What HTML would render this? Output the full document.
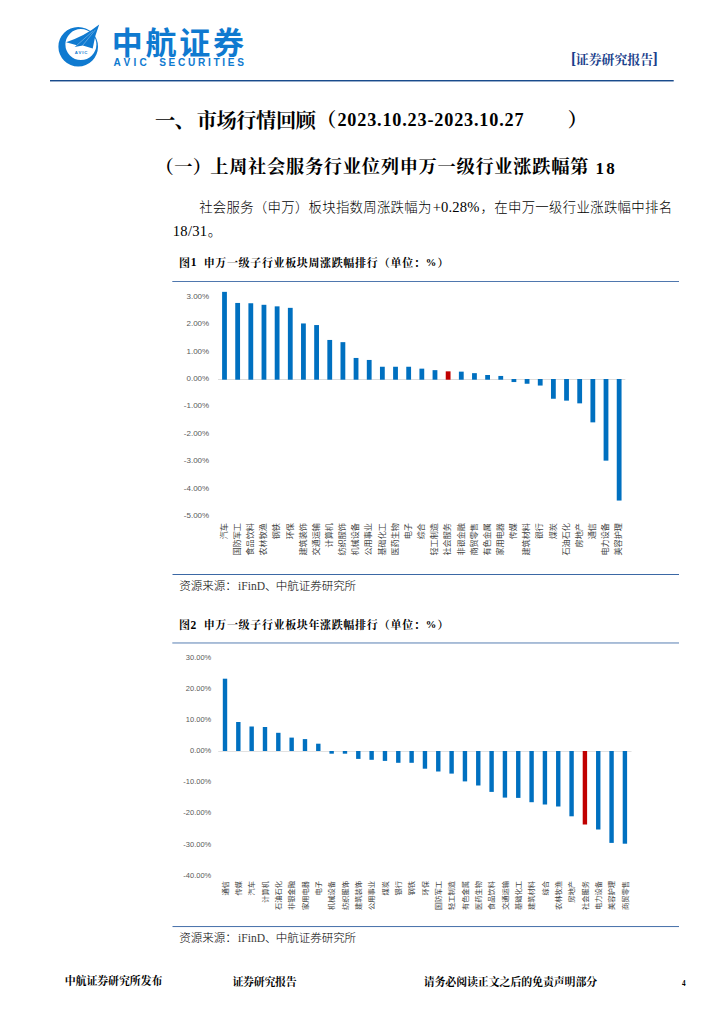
<!DOCTYPE html>
<html lang="zh-CN"><head><meta charset="utf-8"><title>证券研究报告</title>
<style>
html,body{margin:0;padding:0;background:#fff}
#page{position:relative;width:724px;height:1024px;overflow:hidden;background:#fff;font-family:"Liberation Serif","Noto Serif CJK SC",serif}
#art{position:absolute;left:0;top:0;width:724px;height:1024px}
header,footer,h1,h2,p,figure,figcaption,ul,li{margin:0;padding:0;font:inherit;list-style:none}
/* real text layer */
.g{position:absolute;white-space:pre;line-height:1.095;color:#000;font-family:"Liberation Serif","Noto Serif CJK SC",serif;transform-origin:0 0}
.s{font-family:"Liberation Sans","Noto Sans CJK SC",sans-serif;line-height:1.077}
.v90{font-family:"Liberation Sans","Noto Sans CJK SC",sans-serif;line-height:1.077;transform:rotate(-90deg) translateX(-100%);color:#444444}
header .g{color:#1b3f8c;font-weight:bold}
header .s{color:#0f7ad0;font-weight:bold}
h1 .g,h2 .g,figcaption .g,footer .g{font-weight:bold}
p .g{font-family:"Liberation Serif","Noto Sans CJK SC",sans-serif;font-weight:300}
figure>.s{color:#595959}
</style></head><body>
<div id="page">
<svg id="art" width="724" height="1024" viewBox="0 0 724 1024" aria-hidden="true">
<g fill="#0f7ad0">
<path fill-rule="evenodd" d="M78.2 26.9a19.8 19.8 0 1 0 0 39.6a19.8 19.8 0 1 0 0-39.6ZM80.9 29.1a15.5 15.5 0 1 1 0 31a15.5 15.5 0 1 1 0-31Z"/>
<path d="M66.1 42.2Q84.5 36.4 99.2 24.6Q94.4 36.5 92.7 48.4L82.8 45.6L74.6 47.1L76.8 45.2Z"/>
</g>
<path d="M76.9 45.2L92.8 31.2M82.5 45.6L95.4 29.8" stroke="#fff" stroke-width=".32" fill="none"/>
<rect x="50" y="80" width="623.7" height="1.45" fill="#194b8c"/>
<rect x="172.3" y="281.05" width="506.7" height="0.9" fill="#3b68a5"/>
<rect x="172.5" y="574" width="506.5" height="1" fill="#3b68a5"/>
<rect x="218" y="379" width="407.3" height="0.9" fill="#d9d9d9"/>
<rect x="222.1" y="291.85" width="4.8" height="87.85" fill="#0070c0"/>
<rect x="235.25" y="302.95" width="4.8" height="76.75" fill="#0070c0"/>
<rect x="248.41" y="303.25" width="4.8" height="76.45" fill="#0070c0"/>
<rect x="261.56" y="304.8" width="4.8" height="74.9" fill="#0070c0"/>
<rect x="274.72" y="306.35" width="4.8" height="73.35" fill="#0070c0"/>
<rect x="287.88" y="307.85" width="4.8" height="71.85" fill="#0070c0"/>
<rect x="301.03" y="323.45" width="4.8" height="56.25" fill="#0070c0"/>
<rect x="314.19" y="325.05" width="4.8" height="54.65" fill="#0070c0"/>
<rect x="327.34" y="339.95" width="4.8" height="39.75" fill="#0070c0"/>
<rect x="340.5" y="342.15" width="4.8" height="37.55" fill="#0070c0"/>
<rect x="353.65" y="357.95" width="4.8" height="21.75" fill="#0070c0"/>
<rect x="366.81" y="359.95" width="4.8" height="19.75" fill="#0070c0"/>
<rect x="379.96" y="366.75" width="4.8" height="12.95" fill="#0070c0"/>
<rect x="393.12" y="366.75" width="4.8" height="12.95" fill="#0070c0"/>
<rect x="406.27" y="366.75" width="4.8" height="12.95" fill="#0070c0"/>
<rect x="419.43" y="368.65" width="4.8" height="11.05" fill="#0070c0"/>
<rect x="432.58" y="370.15" width="4.8" height="9.55" fill="#0070c0"/>
<rect x="445.74" y="371.35" width="4.8" height="8.35" fill="#c00000"/>
<rect x="458.89" y="371.65" width="4.8" height="8.05" fill="#0070c0"/>
<rect x="472.05" y="373.15" width="4.8" height="6.55" fill="#0070c0"/>
<rect x="485.2" y="375" width="4.8" height="4.7" fill="#0070c0"/>
<rect x="498.36" y="375.95" width="4.8" height="3.75" fill="#0070c0"/>
<rect x="511.51" y="379" width="4.8" height="3.05" fill="#0070c0"/>
<rect x="524.67" y="379" width="4.8" height="4.75" fill="#0070c0"/>
<rect x="537.82" y="379" width="4.8" height="6.55" fill="#0070c0"/>
<rect x="550.98" y="379" width="4.8" height="19.75" fill="#0070c0"/>
<rect x="564.13" y="379" width="4.8" height="21.65" fill="#0070c0"/>
<rect x="577.28" y="379" width="4.8" height="24.35" fill="#0070c0"/>
<rect x="590.44" y="379" width="4.8" height="43.35" fill="#0070c0"/>
<rect x="603.6" y="379" width="4.8" height="81.65" fill="#0070c0"/>
<rect x="616.75" y="379" width="4.8" height="121.55" fill="#0070c0"/>
<rect x="172.3" y="642.55" width="506.7" height="0.85" fill="#3b68a5"/>
<rect x="172.5" y="926.1" width="506.5" height="0.95" fill="#3b68a5"/>
<rect x="218.2" y="751" width="413.3" height="0.9" fill="#dedede"/>
<rect x="222.8" y="678.7" width="4.4" height="72.3" fill="#0070c0"/>
<rect x="236.13" y="722" width="4.4" height="29" fill="#0070c0"/>
<rect x="249.46" y="726.5" width="4.4" height="24.5" fill="#0070c0"/>
<rect x="262.79" y="727" width="4.4" height="24" fill="#0070c0"/>
<rect x="276.12" y="732.8" width="4.4" height="18.2" fill="#0070c0"/>
<rect x="289.45" y="737.6" width="4.4" height="13.4" fill="#0070c0"/>
<rect x="302.78" y="739.1" width="4.4" height="11.9" fill="#0070c0"/>
<rect x="316.11" y="743.7" width="4.4" height="7.3" fill="#0070c0"/>
<rect x="329.44" y="751" width="4.4" height="2.7" fill="#0070c0"/>
<rect x="342.77" y="751" width="4.4" height="2.7" fill="#0070c0"/>
<rect x="356.1" y="751" width="4.4" height="7.9" fill="#0070c0"/>
<rect x="369.43" y="751" width="4.4" height="8.8" fill="#0070c0"/>
<rect x="382.76" y="751" width="4.4" height="9.9" fill="#0070c0"/>
<rect x="396.09" y="751" width="4.4" height="11.8" fill="#0070c0"/>
<rect x="409.42" y="751" width="4.4" height="11.8" fill="#0070c0"/>
<rect x="422.75" y="751" width="4.4" height="17.7" fill="#0070c0"/>
<rect x="436.08" y="751" width="4.4" height="20.5" fill="#0070c0"/>
<rect x="449.41" y="751" width="4.4" height="22.6" fill="#0070c0"/>
<rect x="462.74" y="751" width="4.4" height="30.4" fill="#0070c0"/>
<rect x="476.07" y="751" width="4.4" height="34.5" fill="#0070c0"/>
<rect x="489.4" y="751" width="4.4" height="40.9" fill="#0070c0"/>
<rect x="502.73" y="751" width="4.4" height="46.6" fill="#0070c0"/>
<rect x="516.06" y="751" width="4.4" height="46.9" fill="#0070c0"/>
<rect x="529.39" y="751" width="4.4" height="51.2" fill="#0070c0"/>
<rect x="542.72" y="751" width="4.4" height="53.5" fill="#0070c0"/>
<rect x="556.05" y="751" width="4.4" height="55.5" fill="#0070c0"/>
<rect x="569.38" y="751" width="4.4" height="65.3" fill="#0070c0"/>
<rect x="582.71" y="751" width="4.4" height="73.5" fill="#c00000"/>
<rect x="596.04" y="751" width="4.4" height="78.5" fill="#0070c0"/>
<rect x="609.37" y="751" width="4.4" height="91.9" fill="#0070c0"/>
<rect x="622.7" y="751" width="4.4" height="92.7" fill="#0070c0"/>
</svg>
<header>
<span class="g s" style="left:74.8px;top:51.1px;font-size:4.3px;letter-spacing:0.9px">AVIC</span>
<span class="g s" style="left:111.7px;top:26.5px;font-size:31px;letter-spacing:2.78px">中航证券</span>
<span class="g s" style="left:113.6px;top:58.3px;font-size:10.1px;letter-spacing:3.27px">AVIC</span>
<span class="g s" style="left:159.2px;top:58.3px;font-size:10.1px;letter-spacing:2.69px">SECURITIES</span>
<span class="g" style="left:570.9px;top:49.8px;font-size:15.7px">[</span>
<span class="g" style="left:575.8px;top:52.7px;font-size:12.9px">证券研究报告</span>
<span class="g" style="left:652.6px;top:49.8px;font-size:15.7px">]</span>
</header>
<h1>
<span class="g" style="left:155.1px;top:109.9px;font-size:20.2px">一</span>
<span class="g" style="left:174.5px;top:109.4px;font-size:21px">、</span>
<span class="g" style="left:196.7px;top:110px;font-size:20.2px;letter-spacing:-0.39px">市场行情回顾</span>
<span class="g" style="left:316.8px;top:110.3px;font-size:19.46px">（</span>
<span class="g" style="left:337.4px;top:111.3px;font-size:18.2px;letter-spacing:0.82px">2023.10.23-2023.10.27</span>
<span class="g" style="left:567.7px;top:110.3px;font-size:19.46px">）</span>
</h1>
<h2>
<span class="g" style="left:155.5px;top:158px;font-size:18.24px;letter-spacing:0.42px">（一）</span>
<span class="g" style="left:210.2px;top:158px;font-size:18.24px;letter-spacing:0.71px">上周社会服务行业位列申万一级行业涨跌幅第</span>
<span class="g" style="left:595.4px;top:159.8px;font-size:17px;letter-spacing:2.26px">18</span>
</h2>
<p>
<span class="g" style="left:199.2px;top:200.8px;font-size:13.4px;letter-spacing:0.28px">社会服务（申万）板块指数周涨跌幅为</span>
<span class="g" style="left:432.7px;top:199.9px;font-size:14.6px;letter-spacing:0.16px">+0.28%</span>
<span class="g" style="left:480.5px;top:200.8px;font-size:13.4px;letter-spacing:0.32px">，在申万一级行业涨跌幅中排名</span>
<span class="g" style="left:172.8px;top:224.2px;font-size:14.6px;letter-spacing:0.25px">18/31</span>
<span class="g" style="left:207.7px;top:225.1px;font-size:13.4px">。</span>
</p>
<figure>
<figcaption>
<span class="g" style="left:179.1px;top:257.1px;font-size:11px">图</span>
<span class="g" style="left:190.8px;top:256.4px;font-size:11.5px">1</span>
<span class="g" style="left:203.7px;top:257.1px;font-size:11px;letter-spacing:0.64px">申万一级子行业板块周涨跌幅排行</span>
<span class="g" style="left:378.7px;top:257.1px;font-size:11px;letter-spacing:0.78px">（单位：</span>
<span class="g" style="left:425.8px;top:257.1px;font-size:10.5px">%</span>
<span class="g" style="left:437.4px;top:257.1px;font-size:11px">）</span>
</figcaption>
<span class="g v90" style="left:220.7px;top:522.9px;font-size:8.15px">汽车</span>
<span class="g v90" style="left:233.9px;top:522.9px;font-size:8.15px">国防军工</span>
<span class="g v90" style="left:247px;top:522.9px;font-size:8.15px">食品饮料</span>
<span class="g v90" style="left:260.2px;top:522.9px;font-size:8.15px">农林牧渔</span>
<span class="g v90" style="left:273.3px;top:522.9px;font-size:8.15px">钢铁</span>
<span class="g v90" style="left:286.5px;top:522.9px;font-size:8.15px">环保</span>
<span class="g v90" style="left:299.7px;top:522.9px;font-size:8.15px">建筑装饰</span>
<span class="g v90" style="left:312.8px;top:522.9px;font-size:8.15px">交通运输</span>
<span class="g v90" style="left:326px;top:522.9px;font-size:8.15px">计算机</span>
<span class="g v90" style="left:339.1px;top:522.9px;font-size:8.15px">纺织服饰</span>
<span class="g v90" style="left:352.3px;top:522.9px;font-size:8.15px">机械设备</span>
<span class="g v90" style="left:365.4px;top:522.9px;font-size:8.15px">公用事业</span>
<span class="g v90" style="left:378.6px;top:522.9px;font-size:8.15px">基础化工</span>
<span class="g v90" style="left:391.7px;top:522.9px;font-size:8.15px">医药生物</span>
<span class="g v90" style="left:404.9px;top:522.9px;font-size:8.15px">电子</span>
<span class="g v90" style="left:418.1px;top:522.9px;font-size:8.15px">综合</span>
<span class="g v90" style="left:431.2px;top:522.9px;font-size:8.15px">轻工制造</span>
<span class="g v90" style="left:444.4px;top:522.9px;font-size:8.15px">社会服务</span>
<span class="g v90" style="left:457.5px;top:522.9px;font-size:8.15px">非银金融</span>
<span class="g v90" style="left:470.7px;top:522.9px;font-size:8.15px">商贸零售</span>
<span class="g v90" style="left:483.8px;top:522.9px;font-size:8.15px">有色金属</span>
<span class="g v90" style="left:497px;top:522.9px;font-size:8.15px">家用电器</span>
<span class="g v90" style="left:510.1px;top:522.9px;font-size:8.15px">传媒</span>
<span class="g v90" style="left:523.3px;top:522.9px;font-size:8.15px">建筑材料</span>
<span class="g v90" style="left:536.4px;top:522.9px;font-size:8.15px">银行</span>
<span class="g v90" style="left:549.6px;top:522.9px;font-size:8.15px">煤炭</span>
<span class="g v90" style="left:562.8px;top:522.9px;font-size:8.15px">石油石化</span>
<span class="g v90" style="left:575.9px;top:522.9px;font-size:8.15px">房地产</span>
<span class="g v90" style="left:589.1px;top:522.9px;font-size:8.15px">通信</span>
<span class="g v90" style="left:602.2px;top:522.9px;font-size:8.15px">电力设备</span>
<span class="g v90" style="left:615.4px;top:522.9px;font-size:8.15px">美容护理</span>
<span class="g s" style="left:186.5px;top:292.9px;font-size:8px">3.00%</span>
<span class="g s" style="left:186.5px;top:320.3px;font-size:8px">2.00%</span>
<span class="g s" style="left:186.5px;top:347.6px;font-size:8px">1.00%</span>
<span class="g s" style="left:186.5px;top:375px;font-size:8px">0.00%</span>
<span class="g s" style="left:183.8px;top:402.4px;font-size:8px">-1.00%</span>
<span class="g s" style="left:183.8px;top:429.8px;font-size:8px">-2.00%</span>
<span class="g s" style="left:183.8px;top:457.1px;font-size:8px">-3.00%</span>
<span class="g s" style="left:183.8px;top:484.5px;font-size:8px">-4.00%</span>
<span class="g s" style="left:183.8px;top:511.9px;font-size:8px">-5.00%</span>
<p>
<span class="g" style="left:179.2px;top:579.8px;font-size:11.55px">资源来源：</span>
<span class="g" style="left:237.9px;top:579.5px;font-size:11.55px;letter-spacing:0.09px;color:#3a3a3a">iFinD</span>
<span class="g" style="left:264.9px;top:579.8px;font-size:11.55px">、</span>
<span class="g" style="left:275.8px;top:579.8px;font-size:11.55px;letter-spacing:-0.08px">中航证券研究所</span>
</p>
</figure>
<figure>
<figcaption>
<span class="g" style="left:179.1px;top:619.3px;font-size:11px">图</span>
<span class="g" style="left:190.4px;top:618.6px;font-size:11.5px">2</span>
<span class="g" style="left:203.7px;top:619.3px;font-size:11px;letter-spacing:0.64px">申万一级子行业板块年涨跌幅排行</span>
<span class="g" style="left:378.7px;top:619.3px;font-size:11px;letter-spacing:0.78px">（单位：</span>
<span class="g" style="left:425.8px;top:619.3px;font-size:10.5px">%</span>
<span class="g" style="left:437.4px;top:619.3px;font-size:11px">）</span>
</figcaption>
<span class="g v90" style="left:221.8px;top:880.9px;font-size:7.25px">通信</span>
<span class="g v90" style="left:235.1px;top:880.9px;font-size:7.25px">传媒</span>
<span class="g v90" style="left:248.4px;top:880.9px;font-size:7.25px">汽车</span>
<span class="g v90" style="left:261.8px;top:880.9px;font-size:7.25px">计算机</span>
<span class="g v90" style="left:275.1px;top:880.9px;font-size:7.25px">石油石化</span>
<span class="g v90" style="left:288.4px;top:880.9px;font-size:7.25px">非银金融</span>
<span class="g v90" style="left:301.8px;top:880.9px;font-size:7.25px">家用电器</span>
<span class="g v90" style="left:315.1px;top:880.9px;font-size:7.25px">电子</span>
<span class="g v90" style="left:328.4px;top:880.9px;font-size:7.25px">机械设备</span>
<span class="g v90" style="left:341.7px;top:880.9px;font-size:7.25px">纺织服饰</span>
<span class="g v90" style="left:355.1px;top:880.9px;font-size:7.25px">建筑装饰</span>
<span class="g v90" style="left:368.4px;top:880.9px;font-size:7.25px">公用事业</span>
<span class="g v90" style="left:381.7px;top:880.9px;font-size:7.25px">煤炭</span>
<span class="g v90" style="left:395.1px;top:880.9px;font-size:7.25px">银行</span>
<span class="g v90" style="left:408.4px;top:880.9px;font-size:7.25px">钢铁</span>
<span class="g v90" style="left:421.7px;top:880.9px;font-size:7.25px">环保</span>
<span class="g v90" style="left:435.1px;top:880.9px;font-size:7.25px">国防军工</span>
<span class="g v90" style="left:448.4px;top:880.9px;font-size:7.25px">轻工制造</span>
<span class="g v90" style="left:461.7px;top:880.9px;font-size:7.25px">有色金属</span>
<span class="g v90" style="left:475px;top:880.9px;font-size:7.25px">医药生物</span>
<span class="g v90" style="left:488.4px;top:880.9px;font-size:7.25px">食品饮料</span>
<span class="g v90" style="left:501.7px;top:880.9px;font-size:7.25px">交通运输</span>
<span class="g v90" style="left:515px;top:880.9px;font-size:7.25px">基础化工</span>
<span class="g v90" style="left:528.4px;top:880.9px;font-size:7.25px">建筑材料</span>
<span class="g v90" style="left:541.7px;top:880.9px;font-size:7.25px">综合</span>
<span class="g v90" style="left:555px;top:880.9px;font-size:7.25px">农林牧渔</span>
<span class="g v90" style="left:568.4px;top:880.9px;font-size:7.25px">房地产</span>
<span class="g v90" style="left:581.7px;top:880.9px;font-size:7.25px">社会服务</span>
<span class="g v90" style="left:595px;top:880.9px;font-size:7.25px">电力设备</span>
<span class="g v90" style="left:608.3px;top:880.9px;font-size:7.25px">美容护理</span>
<span class="g v90" style="left:621.7px;top:880.9px;font-size:7.25px">商贸零售</span>
<span class="g s" style="left:185.8px;top:654.2px;font-size:7.5px">30.00%</span>
<span class="g s" style="left:185.8px;top:685.2px;font-size:7.5px">20.00%</span>
<span class="g s" style="left:185.8px;top:716.3px;font-size:7.5px">10.00%</span>
<span class="g s" style="left:190px;top:747.3px;font-size:7.5px">0.00%</span>
<span class="g s" style="left:183.3px;top:778.4px;font-size:7.5px">-10.00%</span>
<span class="g s" style="left:183.3px;top:809.4px;font-size:7.5px">-20.00%</span>
<span class="g s" style="left:183.3px;top:840.5px;font-size:7.5px">-30.00%</span>
<span class="g s" style="left:183.3px;top:871.5px;font-size:7.5px">-40.00%</span>
<p>
<span class="g" style="left:179.2px;top:932.1px;font-size:11.55px">资源来源：</span>
<span class="g" style="left:237.9px;top:931.8px;font-size:11.55px;letter-spacing:0.09px;color:#3a3a3a">iFinD</span>
<span class="g" style="left:264.9px;top:932.1px;font-size:11.55px">、</span>
<span class="g" style="left:275.8px;top:932.1px;font-size:11.55px;letter-spacing:-0.08px">中航证券研究所</span>
</p>
</figure>
<footer>
<span class="g" style="left:64.7px;top:975px;font-size:10.95px;letter-spacing:-0.08px">中航证券研究所发布</span>
<span class="g" style="left:232.4px;top:975.5px;font-size:10.95px;letter-spacing:-0.27px">证券研究报告</span>
<span class="g" style="left:423.7px;top:975.5px;font-size:10.95px;letter-spacing:-0.1px">请务必阅读正文之后的免责声明部分</span>
<span class="g" style="left:682.1px;top:980.9px;font-size:7.2px">4</span>
</footer>
</div>
</body></html>
